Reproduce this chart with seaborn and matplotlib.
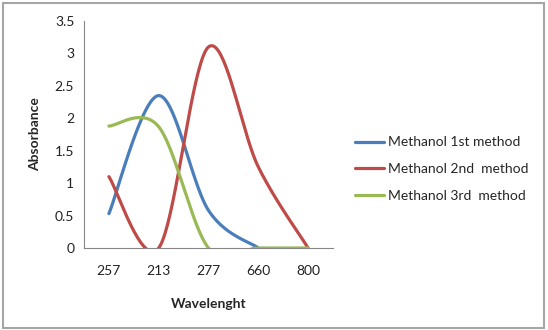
import numpy as np
import pandas as pd
import matplotlib
matplotlib.use('Agg')
import matplotlib.pyplot as plt
import seaborn as sns

wavelengths = ['257', '213', '277', '660', '800']
method1 = [0.53, 2.35, 0.58, 0.0, np.nan]
method2 = [1.1, 0.0, 3.10, 1.25, 0.0]
method3 = [1.88, 1.87, 0.0, 0.0, 0.0]
labels = ['Methanol 1st method', 'Methanol 2nd  method', 'Methanol 3rd  method']
colors = ['#4A7EBB', '#BE4B48', '#98B954']


def smooth(vals, n=40):
    # excel style smoothed line: bezier through points, control pts at 1/6
    y = np.asarray(vals, float)
    x = np.arange(len(y), dtype=float)
    ok = ~np.isnan(y)
    p = np.column_stack([x[ok], y[ok]])
    pp = np.vstack([p[:1], p, p[-1:]])
    t = np.linspace(0, 1, n)[:, None]
    out = []
    for i in range(1, len(pp) - 2):
        b0, b3 = pp[i], pp[i + 1]
        b1 = b0 + (pp[i + 1] - pp[i - 1]) / 6
        b2 = b3 - (pp[i + 2] - pp[i]) / 6
        seg = ((1 - t) ** 3) * b0 + 3 * ((1 - t) ** 2) * t * b1 + 3 * (1 - t) * t ** 2 * b2 + t ** 3 * b3
        out.append(seg)
    return np.vstack(out)


rows = []
for lab, vals in zip(labels, [method1, method2, method3]):
    for xx, yy in smooth(vals):
        rows.append((lab, xx, yy))
df = pd.DataFrame(rows, columns=['series', 'x', 'y'])

sns.set_style('white')
plt.rcParams['font.family'] = ['Lato', 'DejaVu Sans']

fig = plt.figure(figsize=(5.48, 3.30), dpi=100)
ax = fig.add_axes([84 / 548, 1 - 248 / 330, 249 / 548, 227 / 330])

sns.lineplot(data=df, x='x', y='y', hue='series', palette=colors, sort=False,
             estimator=None, linewidth=2.3, ax=ax)

ax.set_xlim(-0.5, 4.5)
ax.set_ylim(0, 3.5)
ax.set_xticks(range(len(wavelengths)), wavelengths)
yt = np.arange(0, 3.51, 0.5)
ax.set_yticks(yt, ['0', '0.5', '1', '1.5', '2', '2.5', '3', '3.5'])
ax.tick_params(axis='x', length=0, pad=12, labelsize=10, colors='#222222')
ax.tick_params(axis='y', length=4, width=1, direction='out', color='#868686',
               pad=3, labelsize=10, labelcolor='#222222')
for s in ['top', 'right']:
    ax.spines[s].set_visible(False)
for s in ['left', 'bottom']:
    ax.spines[s].set_color('#868686')
ax.set_xlabel('Wavelenght', fontsize=10, fontweight='bold', labelpad=15)
ax.set_ylabel('Absorbance', fontsize=10, fontweight='bold', labelpad=10)

ax.legend(loc='upper left', bbox_to_anchor=(342 / 548, 1 - 124 / 330),
          bbox_transform=fig.transFigure, frameon=False, fontsize=10,
          handlelength=2.15, handletextpad=0.29, labelspacing=1.05)

fig.add_artist(plt.Rectangle((3 / 548, 2 / 330), 541 / 548, 325 / 330,
                             transform=fig.transFigure, fill=False,
                             edgecolor='#a6a6a6', linewidth=1.5))

plt.savefig('out.png', dpi=100)
